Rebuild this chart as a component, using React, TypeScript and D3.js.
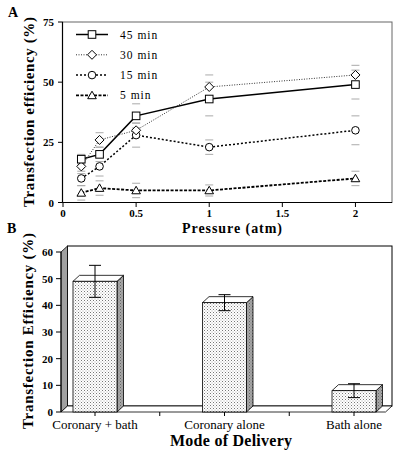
import React from "react";
import * as d3 from "d3";

const pressures = [0.125, 0.25, 0.5, 1, 2];
const seriesNames = ["45 min", "30 min", "15 min", "5 min"];
const v45 = [18, 20, 36, 43, 49];
const v30 = [15, 26, 30, 48, 53];
const v15 = [10, 15, 28, 23, 30];
const v5 = [4, 6, 5, 5, 10];
const e45 = [2, 3, 5, 7, 6];
const e30 = [3, 3, 3, 5, 4];
const e15 = [3, 4, 5, 3, 6];
const e5 = [3, 3, 3, 2.3, 3];
const xTicksA = [0, 0.5, 1, 1.5, 2];
const yTicksA = [0, 25, 50, 75];

const modes = ["Coronary + bath", "Coronary alone", "Bath alone"];
const modeValues = [49, 41, 8];
const modeErrors = [6, 3, 2.6];
const yTicksB = [0, 10, 20, 30, 40, 50, 60];

const SERIF = "Liberation Serif, Times New Roman, DejaVu Serif, serif";

type Style = { dash: string; width: number; color: string; marker: string };
const styles: Style[] = [
  { dash: "", width: 1.5, color: "#000", marker: "square" },
  { dash: "1,1.5", width: 1, color: "#333", marker: "diamond" },
  { dash: "2,2", width: 1.5, color: "#000", marker: "circle" },
  { dash: "3,1.5", width: 1.8, color: "#000", marker: "triangle" },
];

function Marker({ kind, x, y }: { kind: string; x: number; y: number }) {
  const common = { fill: "#fff", stroke: "#000", strokeWidth: 1 };
  if (kind === "square") return <rect x={x - 3.8} y={y - 3.8} width={7.6} height={7.6} {...common} />;
  if (kind === "diamond")
    return <path d={`M${x},${y - 4.5}L${x + 4.5},${y}L${x},${y + 4.5}L${x - 4.5},${y}Z`} {...common} />;
  if (kind === "circle") return <circle cx={x} cy={y} r={3.8} {...common} />;
  return <path d={`M${x},${y - 4.2}L${x + 4.3},${y + 3.3}L${x - 4.3},${y + 3.3}Z`} {...common} />;
}

export default function App() {
  const all = [v45, v30, v15, v5];
  const errs = [e45, e30, e15, e5];
  const xA = d3.scaleLinear().domain([0, 2.25]).range([63, 392]);
  const yA = d3.scaleLinear().domain([0, 75]).range([202.5, 22]);
  const lineGen = d3
    .line<number>()
    .x((_, i) => xA(pressures[i]))
    .y((d) => yA(d));

  const yB = d3.scaleLinear().domain([0, 60]).range([412, 252]);
  const xB = d3.scalePoint<string>().domain(modes).range([95, 354]);
  const bw = 44;
  const dx = 6.5;
  const dy = -6;
  const step = xB.step();
  const xTicksB: number[] = [];
  modes.forEach((m, i) => {
    xTicksB.push(xB(m)!);
    if (i < modes.length - 1) xTicksB.push(xB(m)! + step / 2);
  });
  const axL = 61;
  const wallR = 392;

  return (
    <svg width={400} height={454} style={{ position: "absolute", left: 0, top: 0, background: "#fff" }}>
      <defs>
        <pattern id="stip" width={3} height={3} patternUnits="userSpaceOnUse">
          <rect width={3} height={3} fill="#fff" />
          <rect x={0} y={0} width={1} height={1} fill="#777" />
          <rect x={1.5} y={1.5} width={1} height={1} fill="#aaa" />
        </pattern>
        <pattern id="stipDark" width={3} height={3} patternUnits="userSpaceOnUse">
          <rect width={3} height={3} fill="#a8a8a8" />
          <rect x={0} y={0} width={1} height={1} fill="#666" />
          <rect x={1.5} y={1.5} width={1} height={1} fill="#777" />
        </pattern>
      </defs>

      {/* ---------- Panel A ---------- */}
      <text x={8} y={17} fontFamily={SERIF} fontWeight="bold" fontSize={14}>A</text>
      <rect x={62.5} y={22} width={392 - 62.5} height={202.5 - 22} fill="none" stroke="#666" strokeWidth={1} />
      <line x1={62.5} y1={22} x2={62.5} y2={202.5} stroke="#000" strokeWidth={1.2} />
      <line x1={62.5} y1={202.5} x2={392} y2={202.5} stroke="#000" strokeWidth={1.2} />
      {yTicksA.map((t) => (
        <g key={"ya" + t}>
          <line x1={58} x2={62.5} y1={yA(t)} y2={yA(t)} stroke="#000" />
          <text x={54} y={yA(t) + 4} textAnchor="end" fontFamily={SERIF} fontWeight="bold" fontSize={11}>{t}</text>
        </g>
      ))}
      {xTicksA.map((t) => (
        <g key={"xa" + t}>
          <line x1={xA(t)} x2={xA(t)} y1={202.5} y2={207} stroke="#000" />
          <text x={xA(t)} y={217} textAnchor="middle" fontFamily={SERIF} fontWeight="bold" fontSize={11}>{t}</text>
        </g>
      ))}
      <text
        transform="translate(34,112) rotate(-90)"
        textAnchor="middle"
        fontFamily={SERIF}
        fontWeight="bold"
        fontSize={15}
        textLength={190}
        lengthAdjust="spacing"
      >
        Transfection efficiency (%)
      </text>
      <text x={232} y={233} textAnchor="middle" fontFamily={SERIF} fontWeight="bold" fontSize={14} textLength={100} lengthAdjust="spacing">
        Pressure (atm)
      </text>

      {/* error caps */}
      {all.map((vals, si) =>
        vals.map((v, i) => (
          <g key={`e${si}-${i}`} stroke="#aaa" strokeWidth={1}>
            <line x1={xA(pressures[i]) - 4} x2={xA(pressures[i]) + 4} y1={yA(v + errs[si][i])} y2={yA(v + errs[si][i])} />
            <line x1={xA(pressures[i]) - 4} x2={xA(pressures[i]) + 4} y1={yA(v - errs[si][i])} y2={yA(v - errs[si][i])} />
          </g>
        ))
      )}
      {all.map((vals, si) => (
        <path
          key={"l" + si}
          d={lineGen(vals) || ""}
          fill="none"
          stroke={styles[si].color}
          strokeWidth={styles[si].width}
          strokeDasharray={styles[si].dash || undefined}
        />
      ))}
      {all
        .map((vals, si) => ({ vals, si }))
        .reverse()
        .map(({ vals, si }) =>
          vals.map((v, i) => <Marker key={`m${si}-${i}`} kind={styles[si].marker} x={xA(pressures[i])} y={yA(v)} />)
        )}

      {/* legend */}
      {seriesNames.map((name, i) => {
        const ly = 34.5 + i * 20.3;
        return (
          <g key={"lg" + i}>
            <line
              x1={76}
              x2={108}
              y1={ly}
              y2={ly}
              stroke={styles[i].color}
              strokeWidth={styles[i].width}
              strokeDasharray={styles[i].dash || undefined}
            />
            <Marker kind={styles[i].marker} x={92} y={ly} />
            <text x={120} y={ly + 4} fontFamily={SERIF} fontSize={11.5} letterSpacing={1}>{name}</text>
          </g>
        );
      })}

      {/* ---------- Panel B ---------- */}
      <text x={7} y={233} fontFamily={SERIF} fontWeight="bold" fontSize={14}>B</text>
      <rect x={axL + dx} y={yB(60) + dy} width={wallR - axL - dx} height={yB(0) - yB(60)} fill="#fff" stroke="#000" strokeWidth={1} />
      <path
        d={`M${axL},${yB(60)}L${axL + dx},${yB(60) + dy}L${axL + dx},${yB(0) + dy}L${axL},${yB(0)}Z`}
        fill="#a0a0a0"
        stroke="#000"
        strokeWidth={0.8}
      />
      <path
        d={`M${axL},${yB(0)}L${axL + dx},${yB(0) + dy}L${wallR},${yB(0) + dy}L${wallR - dx},${yB(0)}Z`}
        fill="#fff"
        stroke="#000"
        strokeWidth={0.8}
      />
      <line x1={axL} x2={axL} y1={yB(60)} y2={yB(0)} stroke="#000" />
      {yTicksB.map((t) => (
        <g key={"yb" + t}>
          <line x1={axL - 5} x2={axL} y1={yB(t)} y2={yB(t)} stroke="#000" />
          <text x={53} y={yB(t) + 4} textAnchor="end" fontFamily={SERIF} fontWeight="bold" fontSize={11}>{t}</text>
        </g>
      ))}
      {xTicksB.map((t, i) => (
        <line key={"xb" + i} x1={t} x2={t} y1={yB(0)} y2={yB(0) + 4} stroke="#000" />
      ))}
      {modes.map((m, i) => {
        const cx = xB(m)!;
        const x0 = cx - bw / 2;
        const x1 = cx + bw / 2;
        const yt = yB(modeValues[i]);
        const y0 = yB(0);
        return (
          <g key={"bar" + i}>
            <path
              d={`M${x1},${yt}L${x1 + dx},${yt + dy}L${x1 + dx},${y0 + dy}L${x1},${y0}Z`}
              fill="url(#stipDark)"
              stroke="#000"
              strokeWidth={0.8}
            />
            <path
              d={`M${x0},${yt}L${x0 + dx},${yt + dy}L${x1 + dx},${yt + dy}L${x1},${yt}Z`}
              fill="#fff"
              stroke="#000"
              strokeWidth={0.8}
            />
            <rect x={x0} y={yt} width={bw} height={y0 - yt} fill="url(#stip)" stroke="#000" strokeWidth={0.8} />
            <g stroke="#000" strokeWidth={1}>
              <line x1={cx} x2={cx} y1={yB(modeValues[i] + modeErrors[i])} y2={yB(modeValues[i] - modeErrors[i])} />
              <line x1={cx - 6} x2={cx + 6} y1={yB(modeValues[i] + modeErrors[i])} y2={yB(modeValues[i] + modeErrors[i])} />
              <line x1={cx - 6} x2={cx + 6} y1={yB(modeValues[i] - modeErrors[i])} y2={yB(modeValues[i] - modeErrors[i])} />
            </g>
            <text x={cx} y={429} textAnchor="middle" fontFamily={SERIF} fontSize={13}>{m}</text>
          </g>
        );
      })}
      <text
        transform="translate(33,331) rotate(-90)"
        textAnchor="middle"
        fontFamily={SERIF}
        fontWeight="bold"
        fontSize={15}
        textLength={196}
        lengthAdjust="spacing"
      >
        Transfection Efficiency (%)
      </text>
      <text x={231} y={446} textAnchor="middle" fontFamily={SERIF} fontWeight="bold" fontSize={16} textLength={122} lengthAdjust="spacing">
        Mode of Delivery
      </text>
    </svg>
  );
}
